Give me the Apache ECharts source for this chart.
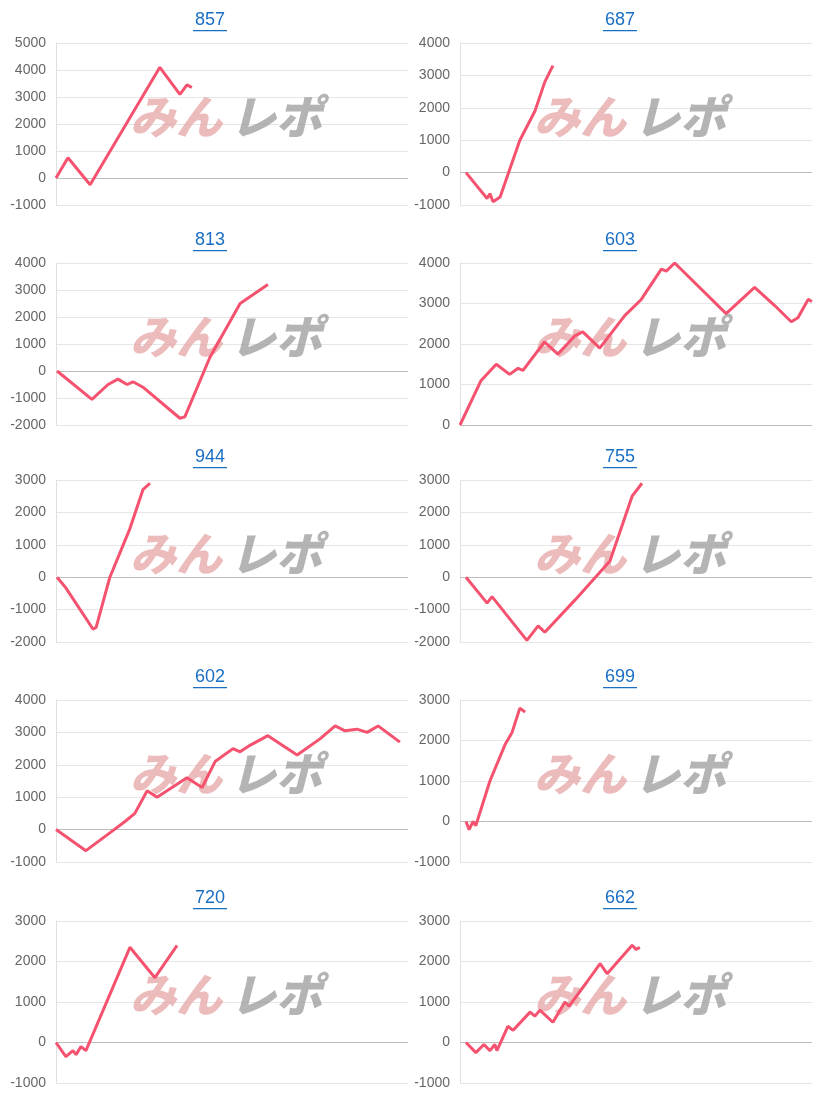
<!DOCTYPE html>
<html><head><meta charset="utf-8">
<script src="https://cdn.jsdelivr.net/npm/echarts@6/dist/echarts.min.js"></script>
<style>html,body{margin:0;padding:0;background:#fff}#c{width:816px;height:1099px}</style>
</head><body><div id="c"></div>
<script>
// x = game progress (0..1000 = full axis width), y = difference
const titles = ["857","687","813","603","944","755","602","699","720","662"];
const yMin = [-1000,-1000,-2000,0,-2000,-2000,-1000,-1000,-1000,-1000];
const yMax = [5000,4000,4000,4000,3000,3000,4000,3000,3000,3000];
const s857 = [[0,0],[34,750],[97,-250],[295,4100],[352,3100],[372,3450],[386,3350]];
const s687 = [[17,0],[77,-800],[85,-650],[94,-900],[114,-750],[170,1000],[213,1900],[241,2800],[264,3300]];
const s813 = [[3,0],[102,-1050],[148,-500],[176,-300],[202,-500],[219,-400],[247,-600],[352,-1750],[366,-1700],[437,500],[523,2500],[602,3200]];
const s603 = [[0,0],[60,1100],[103,1500],[141,1250],[165,1400],[179,1350],[240,2050],[278,1750],[326,2200],[349,2300],[397,1900],[468,2700],[515,3100],[572,3850],[586,3800],[610,4000],[756,2750],[837,3400],[894,2950],[941,2550],[960,2650],[989,3100],[1000,3050]];
const s944 = [[3,0],[26,-300],[105,-1600],[114,-1550],[153,0],[210,1500],[247,2700],[267,2900]];
const s755 = [[17,0],[77,-800],[91,-600],[190,-1950],[222,-1500],[241,-1700],[327,-700],[426,500],[489,2500],[517,2900]];
const s602 = [[0,0],[85,-650],[153,-100],[196,250],[224,500],[259,1200],[287,1000],[372,1600],[415,1300],[452,2100],[503,2500],[523,2400],[551,2600],[602,2900],[685,2300],[750,2800],[793,3200],[821,3050],[855,3100],[884,3000],[915,3200],[977,2700]];
const s699 = [[17,0],[26,-200],[37,0],[45,-100],[85,1000],[128,1900],[148,2200],[170,2800],[185,2700]];
const s720 = [[0,0],[28,-350],[48,-200],[57,-300],[71,-100],[85,-200],[210,2350],[281,1600],[344,2400]];
const s662 = [[17,0],[45,-250],[68,-50],[85,-200],[99,-50],[105,-200],[136,400],[151,300],[199,750],[213,650],[227,800],[264,500],[298,1000],[310,900],[361,1500],[398,1950],[418,1700],[489,2400],[500,2300],[511,2350]];
const seriesData = [s857,s687,s813,s603,s944,s755,s602,s699,s720,s662];

const tops = [43,263,480,700,921];
const H = 162;
const grids=[],xAxes=[],yAxes=[],series=[],graphics=[];
for(let i=0;i<10;i++){
  const col=i%2,row=Math.floor(i/2);
  const left = col?460:56, w=352, top=tops[row];
  grids.push({left:left,top:top,width:w,height:H});
  xAxes.push({type:'value',gridIndex:i,min:0,max:1000,show:true,
    axisLine:{show:false},axisTick:{show:false},axisLabel:{show:false},splitLine:{show:false}});
  yAxes.push({type:'value',gridIndex:i,min:yMin[i],max:yMax[i],interval:1000,
    axisLine:{show:true,lineStyle:{color:'#e0e0e0'}},axisTick:{show:false},
    axisLabel:{color:'#666',fontSize:14,fontFamily:'Arial, "Liberation Sans"',margin:10,formatter:v=>String(v)},
    splitLine:{show:true,lineStyle:{color:'#e6e6e6'}}});
  series.push({type:'line',xAxisIndex:i,yAxisIndex:i,data:[],markLine:{silent:true,symbol:'none',label:{show:false},
    lineStyle:{color:'#bdbdbd',type:'solid',width:1},data:[{yAxis:0}]}});
  const cx = left + 172, cy = top + 78;
  graphics.push({type:'text',left:cx-98,top:cy-27,z:1,style:{text:'みん',fill:'rgba(228,160,160,0.7)',font:'italic 900 46px "Noto Sans CJK JP"'}});
  graphics.push({type:'text',left:cx+2,top:cy-27,z:1,style:{text:'レポ',fill:'rgba(155,155,155,0.75)',font:'italic 900 46px "Noto Sans CJK JP"'}});
  series.push({type:'line',xAxisIndex:i,yAxisIndex:i,data:seriesData[i],symbol:'none',z:5,
    lineStyle:{color:'#f4526e',width:3},itemStyle:{color:'#f4526e'}});
  const tx = col?620:210, ty = top - 32;
  graphics.push({type:'text',x:tx,y:ty,style:{text:titles[i],fill:'#1a6fc4',font:'18px Arial, "Liberation Sans"',align:'center',verticalAlign:'top'}});
  graphics.push({type:'rect',shape:{x:tx-17,y:ty+19,width:34,height:1.3},style:{fill:'#1a6fc4'}});
}
const chart=echarts.init(document.getElementById('c'));
chart.setOption({animation:false,grid:grids,xAxis:xAxes,yAxis:yAxes,series:series,graphic:graphics});
</script></body></html>
